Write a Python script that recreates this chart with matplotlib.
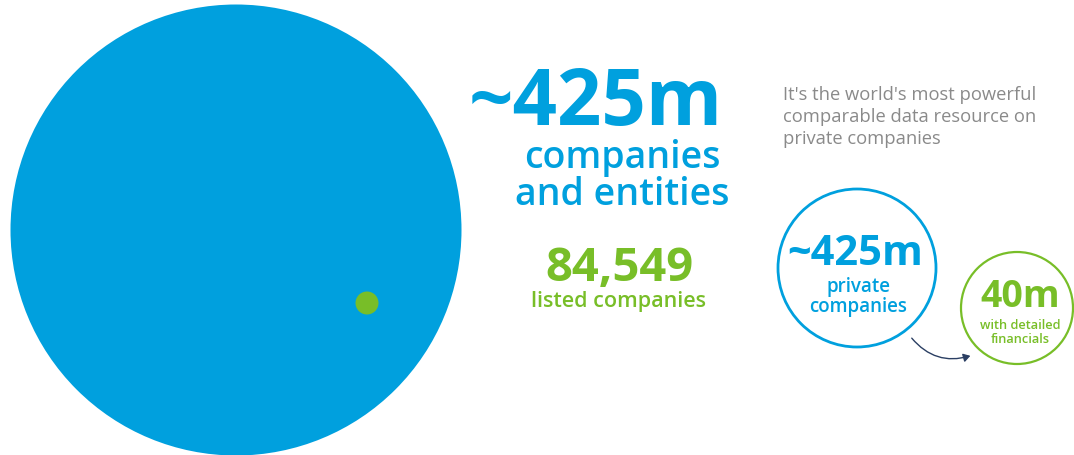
import matplotlib.pyplot as plt
from matplotlib.patches import Circle, FancyArrowPatch

# Text content of the infographic
total_value = "~425m"
total_label = ["companies", "and entities"]
listed_value = "84,549"
listed_label = "listed companies"
tagline = ["It's the world's most powerful",
           "comparable data resource on",
           "private companies"]
private_value = "~425m"
private_label = ["private", "companies"]
detailed_value = "40m"
detailed_label = ["with detailed", "financials"]

BLUE = "#00a0de"
GREEN = "#78be28"
GREY = "#8a8a8a"
NAVY = "#2b3f63"

plt.rcParams['font.family'] = ['Open Sans', 'DejaVu Sans']

def main():
    fig = plt.figure(figsize=(10.74, 4.56), dpi=100)
    ax = fig.add_axes([0, 0, 1, 1])
    ax.set_xlim(0, 1074)
    ax.set_ylim(456, 0)
    ax.set_aspect('equal')
    ax.axis('off')

    # big circle with the listed-companies dot
    ax.add_patch(Circle((236, 231), 225.5, color=BLUE, lw=0))
    ax.add_patch(Circle((367, 304), 11.5, color=GREEN, lw=0))

    # middle block
    ax.text(723, 125, total_value, color=BLUE, fontsize=56, fontweight='bold',
            ha='right', va='baseline')
    ax.text(622, 205, "\n".join(total_label), color=BLUE, fontsize=27,
            fontweight='semibold', ha='center', va='baseline',
            multialignment='center', linespacing=0.95)
    ax.text(619, 281, listed_value, color=GREEN, fontsize=34, fontweight='bold',
            ha='center', va='baseline')
    ax.text(618, 307, listed_label, color=GREEN, fontsize=15.5, fontweight='semibold',
            ha='center', va='baseline')

    # tagline
    ax.text(783, 144, "\n".join(tagline), color=GREY, fontsize=13.2,
            ha='left', va='baseline', linespacing=1.3)

    # small circles
    ax.add_patch(Circle((857, 269), 79, fill=False, ec=BLUE, lw=2))
    ax.text(855, 265, private_value, color=BLUE, fontsize=30, fontweight='bold',
            ha='center', va='baseline')
    ax.text(858, 312, "\n".join(private_label), color=BLUE, fontsize=13.5,
            fontweight='semibold', ha='center', va='baseline',
            multialignment='center', linespacing=1.0)

    ax.add_patch(Circle((1017, 309), 56, fill=False, ec=GREEN, lw=1.6))
    ax.text(1020, 307, detailed_value, color=GREEN, fontsize=27, fontweight='bold',
            ha='center', va='baseline')
    ax.text(1020, 343, "\n".join(detailed_label), color=GREEN, fontsize=9.2,
            fontweight='semibold', ha='center', va='baseline',
            multialignment='center', linespacing=1.1)

    arrow = FancyArrowPatch((910, 337), (973, 356),
                            connectionstyle="arc3,rad=0.35",
                            arrowstyle="-|>,head_length=4,head_width=2.5",
                            color=NAVY, lw=1)
    ax.add_patch(arrow)

    fig.savefig('out.png', dpi=100)

if __name__ == "__main__":
    main()
